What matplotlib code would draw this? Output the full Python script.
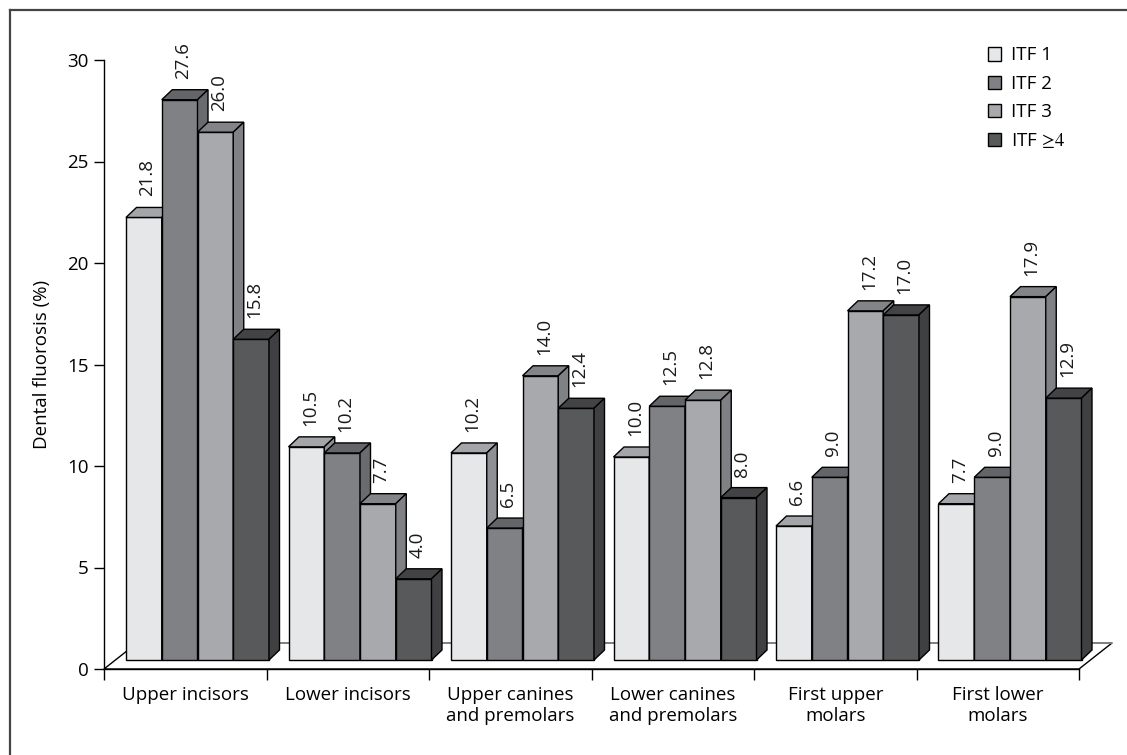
import matplotlib
matplotlib.use("Agg")
import matplotlib.pyplot as plt
from matplotlib.patches import Polygon
from matplotlib.lines import Line2D
import numpy as np

plt.rcParams['font.family'] = ['Open Sans', 'DejaVu Sans']
plt.rcParams['mathtext.fontset'] = 'stix'

categories = ["Upper incisors", "Lower incisors", "Upper canines\nand premolars",
              "Lower canines\nand premolars", "First upper\nmolars", "First lower\nmolars"]
series_names = ["ITF 1", "ITF 2", "ITF 3", r"ITF $\!\geq\!4$"]
itf1 = [21.8, 10.5, 10.2, 10.0, 6.6, 7.7]
itf2 = [27.6, 10.2, 6.5, 12.5, 9.0, 9.0]
itf3 = [26.0, 7.7, 14.0, 12.8, 17.2, 17.9]
itf4 = [15.8, 4.0, 12.4, 8.0, 17.0, 12.9]
series = [itf1, itf2, itf3, itf4]
yticks = [0, 5, 10, 15, 20, 25, 30]

front_colors = ["#e6e7e9", "#808184", "#a7a9ac", "#58595b"]
top_colors = ["#a4a5a8", "#646568", "#838487", "#434345"]
side_colors = ["#8f9093", "#6a6b6e", "#808184", "#404042"]

W, H = 1127, 755
fig = plt.figure(figsize=(W / 100, H / 100), dpi=100)
left_px, right_px, top_px, bottom_px = 104, 1079, 60, 669
ax = fig.add_axes([left_px / W, 1 - bottom_px / H,
                   (right_px - left_px) / W, (bottom_px - top_px) / H])
ncat = len(categories)
ax.set_xlim(0, ncat)
ax.set_ylim(0, 30)

# pixel -> data unit conversion for the oblique projection
sx = (right_px - left_px) / ncat
sy = (bottom_px - top_px) / 30.0

# floor
fdx, fdy = 33 / sx, 26 / sy
floor = Polygon([(0, 0), (ncat, 0), (ncat + fdx, fdy), (fdx, fdy)], closed=True,
                facecolor="white", edgecolor="black", lw=1.0, zorder=1, clip_on=False)
ax.add_patch(floor)
ax.add_line(Line2D([fdx, ncat + fdx], [fdy, fdy], color="#8c8c8c", lw=1.2,
                   zorder=1.5, clip_on=False))

# bar geometry
bw = 35.75 / sx            # bar width
ox, oy = 12.25 / sx, 9 / sy  # bars sit part-way into the floor depth
ddx, ddy = 10.5 / sx, 10 / sy  # bar depth

for k, vals in enumerate(series):
    xs = np.arange(ncat) + 0.5 - 2 * bw + k * bw + ox
    bars = ax.bar(xs, vals, width=bw, bottom=oy, align="edge",
                  color=front_colors[k], edgecolor="black", lw=1.0,
                  label=series_names[k], clip_on=False)
    for g, (rect, v) in enumerate(zip(bars, vals)):
        z = 10 + 3 * (g * 4 + k)
        rect.set_zorder(z)
        x0 = rect.get_x()
        y0 = oy
        yt = y0 + v
        top = Polygon([(x0, yt), (x0 + bw, yt), (x0 + bw + ddx, yt + ddy), (x0 + ddx, yt + ddy)],
                      closed=True, facecolor=top_colors[k], edgecolor="black", lw=1.0,
                      zorder=z + 1, clip_on=False)
        side = Polygon([(x0 + bw, y0), (x0 + bw, yt), (x0 + bw + ddx, yt + ddy), (x0 + bw + ddx, y0 + ddy)],
                       closed=True, facecolor=side_colors[k], edgecolor="black", lw=1.0,
                       zorder=z + 2, clip_on=False)
        ax.add_patch(top)
        ax.add_patch(side)
        ax.text(x0 + bw / 2 + 3.5 / sx, yt + 21 / sy, f"{v:.1f}", rotation=90,
                ha="center", va="bottom", fontsize=13.5, color="#1a1a1a", zorder=200)

# axes styling
for s in ["top", "right"]:
    ax.spines[s].set_visible(False)
ax.spines["left"].set_linewidth(1.0)
ax.spines["bottom"].set_linewidth(1.0)
ax.spines["bottom"].set_zorder(2)
ax.set_yticks(yticks)
ax.tick_params(axis="y", direction="out", length=7, width=1, pad=4, labelsize=13.5,
               colors="black")
ax.set_xticks(np.arange(ncat + 1))
ax.set_xticklabels([])
ax.set_xticks(np.arange(ncat) + 0.5, minor=True)
ax.set_xticklabels(categories, minor=True, fontsize=13.5, linespacing=1.25)
ax.tick_params(axis="x", which="major", direction="out", length=8, width=1)
ax.tick_params(axis="x", which="minor", length=0, pad=12)
ax.set_ylabel("Dental fluorosis (%)", fontsize=13.5, labelpad=12)
ax.patch.set_visible(False)

handles, labels = ax.get_legend_handles_labels()
leg = ax.legend(handles, labels, loc="upper left",
                bbox_to_anchor=(980 / W, 1 - 39 / H), bbox_transform=fig.transFigure,
                frameon=False, fontsize=13.5, handlelength=0.7, handleheight=0.7,
                handletextpad=0.55, labelspacing=0.55, borderaxespad=0)

# outer frame (top and left)
fig.add_artist(Line2D([9.5 / W, 1.0], [1 - 10 / H, 1 - 10 / H], transform=fig.transFigure,
                      color="#444444", lw=1.6))
fig.add_artist(Line2D([9.5 / W, 9.5 / W], [0, 1 - 10 / H], transform=fig.transFigure,
                      color="#444444", lw=1.6))

fig.savefig("out.png", dpi=100)
